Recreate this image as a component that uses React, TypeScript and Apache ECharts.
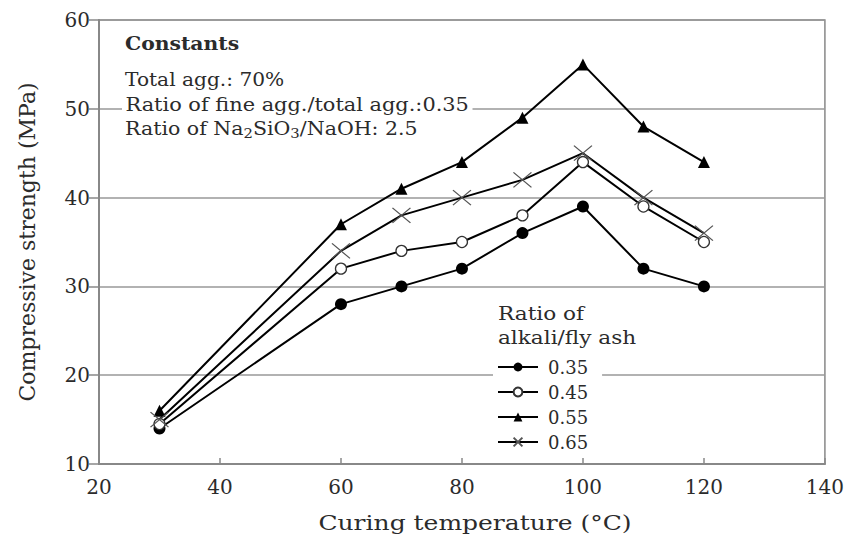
import React, { useEffect, useRef } from "react";
import * as echarts from "echarts";

const temperatures = [30, 60, 70, 80, 90, 100, 110, 120];
const ratio035 = [14, 28, 30, 32, 36, 39, 32, 30];
const ratio045 = [14.5, 32, 34, 35, 38, 44, 39, 35];
const ratio055 = [16, 37, 41, 44, 49, 55, 48, 44];
const ratio065 = [15, 34, 38, 40, 42, 45, 40, 36];
const seriesNames = ["0.35", "0.45", "0.55", "0.65"];

const FONT = "DejaVu Serif";
const TEXT = "#2b2b2b";

const CROSS = "path://M0,0L10,10M10,0L0,10";

export default function App() {
  const ref = useRef<HTMLDivElement>(null);
  useEffect(() => {
    document.body.style.margin = "0";
    if (!ref.current) return;
    const chart = echarts.init(ref.current, undefined, { renderer: "svg" });
    const pair = (vals: number[]) => temperatures.map((t, i) => [t, vals[i]]);
    const lineStyle = { color: "#000", width: 2 };
    const label = (text: string, x: number, y: number, extra: any = {}, sx = 1.12) => ({
      type: "text",
      x,
      y,
      scaleX: sx,
      z: 10,
      style: {
        text,
        fontFamily: FONT,
        fontSize: 18,
        fill: TEXT,
        textAlign: "left",
        textVerticalAlign: "middle",
        ...extra,
      },
    });
    chart.setOption({
      animation: false,
      backgroundColor: "#fff",
      grid: {
        left: 99,
        right: 20,
        top: 20,
        bottom: 77,
        show: true,
        borderColor: "#888",
        borderWidth: 1.5,
        backgroundColor: "transparent",
      },
      xAxis: {
        type: "value",
        min: 20,
        max: 140,
        interval: 20,
        axisLine: { lineStyle: { color: "#888", width: 2 } },
        axisTick: { inside: true, length: 6, lineStyle: { color: "#888", width: 1.5 } },
        axisLabel: { margin: 13, fontFamily: FONT, fontSize: 20, color: TEXT },
        splitLine: { show: false },
      },
      yAxis: {
        type: "value",
        min: 10,
        max: 60,
        interval: 10,
        name: "Compressive strength (MPa)",
        nameLocation: "middle",
        nameGap: 61,
        nameTextStyle: { fontFamily: FONT, fontSize: 22, color: TEXT },
        axisLine: { show: true, lineStyle: { color: "#888", width: 2 } },
        axisTick: { show: true, inside: false, length: 10, lineStyle: { color: "#888", width: 1.5 } },
        axisLabel: { margin: 9, fontFamily: FONT, fontSize: 20, color: TEXT },
        splitLine: { show: true, lineStyle: { color: "#999", width: 1.5 } },
      },
      legend: {
        orient: "vertical",
        left: 493,
        top: 356,
        padding: [2, 14, 2, 4],
        backgroundColor: "#fff",
        itemWidth: 40,
        itemHeight: 11,
        itemGap: 7,
        data: seriesNames,
        textStyle: { fontFamily: FONT, fontSize: 18, color: TEXT, padding: [0, 0, 0, 5] },
      },
      graphic: [
        label("Constants", 125, 44, { fontWeight: "bold" }, 1.13),
        label("Total agg.: 70%", 125, 80),
        label("Ratio of fine agg./total agg.:0.35", 122, 105, {
          backgroundColor: "#fff",
          padding: [2, 3, 2, 3],
        }, 1.16),
        label("Ratio of Na{s|2}SiO{s|3}/NaOH: 2.5", 125, 129, {
          rich: {
            s: { fontFamily: FONT, fontSize: 13, fill: TEXT, padding: [8, 0, 0, 0] },
          },
        }, 1.14),
        label("Ratio of", 498, 314, {}, 1.2),
        label("alkali/fly ash", 498, 338, {}, 1.2),
        label("Curing temperature (°C)", 475, 523, { fontSize: 20, textAlign: "center" }, 1.25),
      ],
      series: [
        {
          name: seriesNames[0],
          type: "line",
          data: pair(ratio035),
          symbol: "circle",
          symbolSize: 12,
          lineStyle,
          itemStyle: { color: "#000", borderColor: "#000", borderWidth: 0 },
          z: 3,
        },
        {
          name: seriesNames[1],
          type: "line",
          data: pair(ratio045),
          symbol: "circle",
          symbolSize: 11,
          lineStyle,
          itemStyle: { color: "#fff", borderColor: "#333", borderWidth: 1.3 },
          z: 3,
        },
        {
          name: seriesNames[2],
          type: "line",
          data: pair(ratio055),
          symbol: "triangle",
          symbolSize: 12,
          lineStyle,
          itemStyle: { color: "#000", borderColor: "#000", borderWidth: 0 },
          z: 3,
        },
        {
          name: seriesNames[3],
          type: "line",
          data: pair(ratio065),
          symbol: CROSS,
          symbolSize: [18, 15],
          lineStyle,
          itemStyle: { color: "none", borderColor: "#555", borderWidth: 1.2 },
          z: 3,
        },
      ],
    });
    return () => chart.dispose();
  }, []);
  return <div ref={ref} style={{ width: 847, height: 541 }} />;
}
